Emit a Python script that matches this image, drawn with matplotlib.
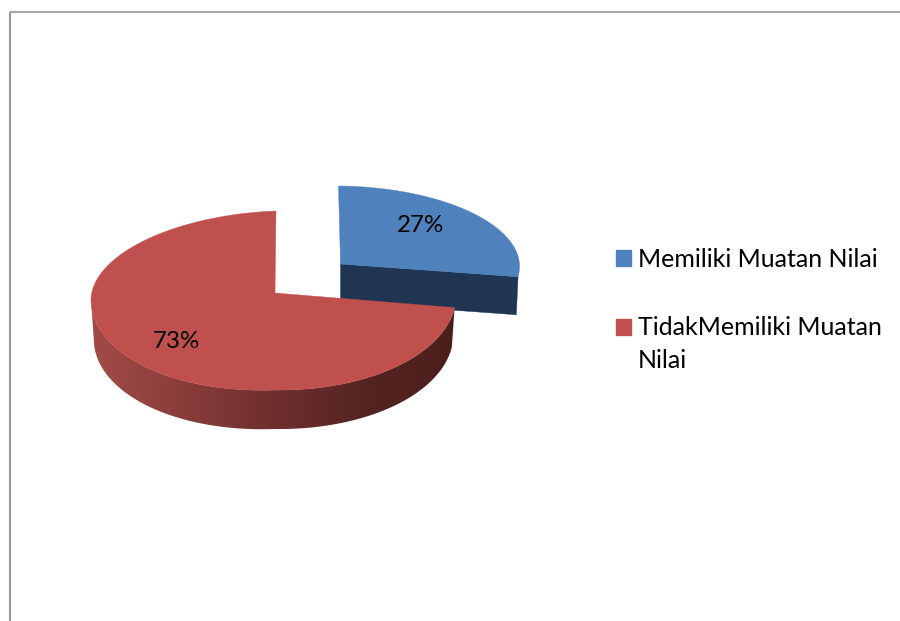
import numpy as np
import matplotlib
matplotlib.use("Agg")
import matplotlib.pyplot as plt
from matplotlib.colors import LinearSegmentedColormap
from matplotlib.patches import Polygon, Patch

# Chart data
categories = ["Memiliki Muatan Nilai", "TidakMemiliki Muatan\nNilai"]
shares = [27, 73]
share_labels = ["27%", "73%"]

# Colours
top_colors = ["#4f81bd", "#c0504d"]
cut_face_color = "#1f3551"
rim_shades = ["#a34c49", "#8a3d3b", "#6e2f2d", "#552422", "#4a1e1c"]

plt.rcParams["font.family"] = ["Lato", "DejaVu Sans"]
LABEL_FONT = 17.4
LEGEND_FONT = 18.0

fig = plt.figure(figsize=(9, 6.21), dpi=100, facecolor="white")
ax = fig.add_axes([0, 0, 1, 1])
ax.set_xlim(0, 900)
ax.set_ylim(621, 0)
ax.axis("off")

# Outer chart frame: only the top and left edges fall inside the canvas
ax.plot([10, 900], [11.5, 11.5], color="#969696", lw=1.2, solid_capstyle="butt")
ax.plot([10, 10], [11.5, 621], color="#969696", lw=1.5, solid_capstyle="butt")


def rim(theta, shape, scale=1.0, drop=0.0):
    """Project clockwise-from-north angles (radians) onto the tilted pie plane."""
    s, c = np.sin(theta), np.cos(theta)
    rx = np.where(s >= 0, shape["rx_right"], shape["rx_left"]) * scale
    ry = np.where(c >= 0, shape["ry_back"], shape["ry_front"])
    off = np.where(s >= 0, shape["off_right"], shape["off_left"])
    x = shape["x"] + rx * s + shape["lean"] * np.clip(c, 0, 1)
    y = shape["y"] + off * np.abs(s) - ry * c + drop
    return np.column_stack([x, y])


def sweep(start, stop, n=240):
    return np.linspace(start, stop, n) / 100 * 2 * np.pi


blue_shape = dict(x=340.5, y=264, rx_left=179, rx_right=179, ry_back=78, ry_front=90,
                  off_left=2, off_right=1.5, lean=-2, depth=38)
red_shape = dict(x=275, y=293, rx_left=184, rx_right=181, ry_back=82, ry_front=97,
                 off_left=7, off_right=2.5, lean=1, depth=39)

blue_end = shares[0]

# Exploded blue slice: cut face first, then its top
blue_edge = rim(sweep(blue_end, blue_end, 1), blue_shape)[0]
blue_edge_low = rim(sweep(blue_end, blue_end, 1), blue_shape, 0.99, blue_shape["depth"])[0]
apex_b = np.array([blue_shape["x"], blue_shape["y"]])
ax.add_patch(Polygon([apex_b, blue_edge, blue_edge_low, apex_b + [0, blue_shape["depth"]]],
                     closed=True, fc=cut_face_color, ec=cut_face_color, lw=0.3, zorder=2))
blue_top = np.vstack([apex_b, rim(sweep(0, blue_end), blue_shape)])
ax.add_patch(Polygon(blue_top, closed=True, fc=top_colors[0], ec=top_colors[0], lw=0.3, zorder=3))

# Red slice: shaded outer wall with a left-to-right gradient, then its top
red_theta = sweep(blue_end, 100)
wall_theta = sweep(blue_end, 75)
upper = rim(wall_theta, red_shape)
lower = rim(wall_theta, red_shape, 0.985, red_shape["depth"])
wall = Polygon(np.vstack([upper, lower[::-1]]), closed=True, fc="none", ec="none", zorder=4)
ax.add_patch(wall)
ramp = LinearSegmentedColormap.from_list("wall", rim_shades)
im = ax.imshow(np.linspace(0, 1, 256)[None, :], cmap=ramp, aspect="auto",
               extent=(88, 460, 440, 290), zorder=4)
im.set_clip_path(wall)
ax.set_xlim(0, 900)
ax.set_ylim(621, 0)

apex_r = np.array([red_shape["x"], red_shape["y"]])
red_top = np.vstack([apex_r, rim(red_theta, red_shape)])
ax.add_patch(Polygon(red_top, closed=True, fc=top_colors[1], ec=top_colors[1], lw=0.3, zorder=5))

# Percentage labels
ax.text(420, 226, share_labels[0], ha="center", va="center", fontsize=LABEL_FONT, color="black", zorder=6)
ax.text(176, 341, share_labels[1], ha="center", va="center", fontsize=LABEL_FONT, color="black", zorder=6)

# Legend, with each swatch lined up on the first line of its entry
handles = [Patch(fc=c, ec=c) for c in top_colors]
legend = ax.legend(handles, categories, loc="upper left", bbox_to_anchor=(616 / 900, 1 - 248 / 621),
                   frameon=False, fontsize=LEGEND_FONT, handlelength=0.6, handleheight=0.6,
                   handletextpad=0.28, labelspacing=1.80, borderpad=0, borderaxespad=0,
                   labelcolor="black")
for label in legend.get_texts():
    label.set_linespacing(1.52)
swatch = legend.legend_handles[1]
swatch.set_y(swatch.get_y() + 13)

fig.savefig("out.png", dpi=100, facecolor="white")
